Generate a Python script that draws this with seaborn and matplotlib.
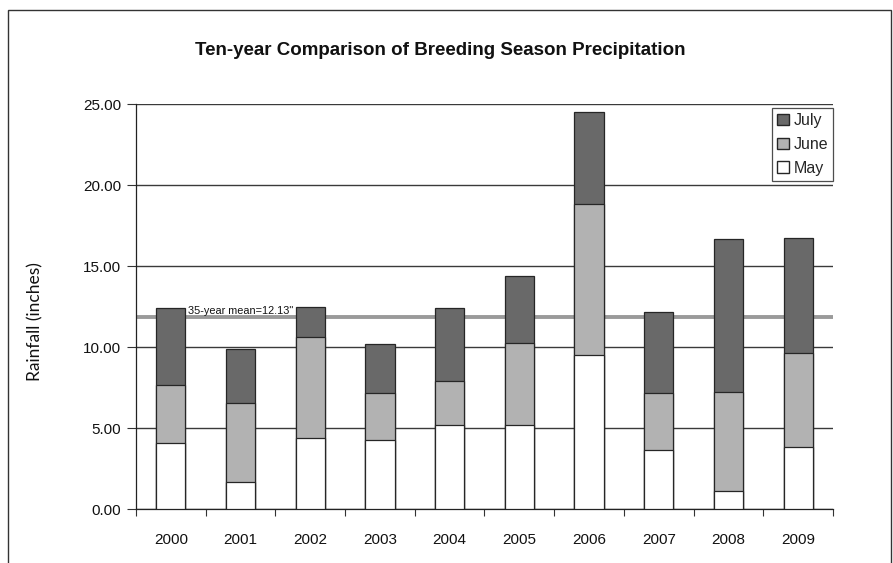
# Breeding season precipitation, stacked by month

import pandas as pd
import matplotlib
matplotlib.use("Agg")
import matplotlib.pyplot as plt
import seaborn as sns
from matplotlib.patches import Patch, Rectangle
from matplotlib.ticker import FixedLocator, FormatStrFormatter

# Data (inches)
years = ['2000', '2001', '2002', '2003', '2004', '2005', '2006', '2007', '2008', '2009']
may = [4.09, 1.69, 4.36, 4.24, 5.17, 5.19, 9.51, 3.62, 1.09, 3.85]
june = [3.54, 4.87, 6.24, 2.90, 2.71, 5.04, 9.36, 3.54, 6.13, 5.76]
july = [4.76, 3.30, 1.85, 3.03, 4.51, 4.15, 5.63, 4.98, 9.43, 7.16]
mean_line = 11.85
mean_label = '35-year mean=12.13"'

df = pd.DataFrame({'Year': years, 'May': may, 'June': june, 'July': july})
df['MayTop'] = df['May']
df['JuneTop'] = df['May'] + df['June']
df['JulyTop'] = df['JuneTop'] + df['July']

sns.set_style("white")
plt.rcParams['font.family'] = ['Liberation Sans', 'DejaVu Sans']

fig = plt.figure(figsize=(8.93, 5.63), dpi=100)
ax = fig.add_axes([0.1523, 0.0959, 0.7805, 0.7188])

# Stacked bars: draw the tallest (cumulative) first, then cover it
colors = {'JulyTop': '#696969', 'JuneTop': '#b2b2b2', 'MayTop': '#ffffff'}
for col, c in colors.items():
    sns.barplot(data=df, x='Year', y=col, color=c, saturation=1, width=0.42,
                edgecolor='#262626', linewidth=0.9, ax=ax, zorder=3)

# Mean line sits behind the bars
ax.axhline(mean_line, color='#9a9a9a', linewidth=2.8, zorder=2)
ax.text(0.245, mean_line + 0.1, mean_label, fontsize=7.8, va='bottom', ha='left',
        color='#111111', zorder=4)

# Axes styling
ax.set_ylim(0, 25)
ax.set_xlim(-0.5, 9.5)
ax.set_yticks([0, 5, 10, 15, 20, 25])
ax.yaxis.set_major_formatter(FormatStrFormatter('%.2f'))
ax.yaxis.grid(True, color='#3a3a3a', linewidth=1, zorder=1)
ax.set_axisbelow(True)
ax.tick_params(axis='y', direction='out', length=6.5, width=0.8, color='#333333',
               labelsize=11, pad=4, left=True, labelcolor='#111111')
ax.tick_params(axis='x', which='major', length=0, labelsize=11, pad=17,
               labelcolor='#111111')
ax.xaxis.set_minor_locator(FixedLocator([i - 0.5 for i in range(len(years) + 1)]))
ax.tick_params(axis='x', which='minor', direction='out', length=5, width=0.8,
               color='#333333', bottom=True)
for s in ['top', 'right']:
    ax.spines[s].set_visible(False)
for s in ['left', 'bottom']:
    ax.spines[s].set_color('#222222')
    ax.spines[s].set_linewidth(0.9)
ax.set_xlabel('')
ax.set_ylabel('')
fig.text(35 / 893, 1 - 322 / 563, 'Rainfall (inches)', rotation=90, ha='center',
         va='center', fontsize=12.5, family=['Lato', 'DejaVu Sans'], color='#111111')

fig.text(0.493, 0.91, 'Ten-year Comparison of Breeding Season Precipitation',
         ha='center', va='center', fontsize=13.5, fontweight='bold', color='#111111')

# Legend
handles = [Patch(facecolor=colors['JulyTop'], edgecolor='#262626', label='July'),
           Patch(facecolor=colors['JuneTop'], edgecolor='#262626', label='June'),
           Patch(facecolor=colors['MayTop'], edgecolor='#262626', label='May')]
leg = ax.legend(handles=handles, loc='upper right', bbox_to_anchor=(1.0, 0.99),
                borderaxespad=0, fancybox=False, frameon=True, fontsize=11.5,
                handlelength=0.75, handleheight=0.75, handletextpad=0.3,
                labelspacing=0.55, borderpad=0.3)
leg.get_frame().set_edgecolor('#222222')
leg.get_frame().set_linewidth(0.9)

# Outer chart border (cut at the bottom like the original)
fig.patches.append(Rectangle((8 / 893, -0.2), 883 / 893, 1.2 - 10 / 563,
                             transform=fig.transFigure, fill=False,
                             edgecolor='#333333', linewidth=1, clip_on=False))

fig.savefig('out.png', dpi=100)
